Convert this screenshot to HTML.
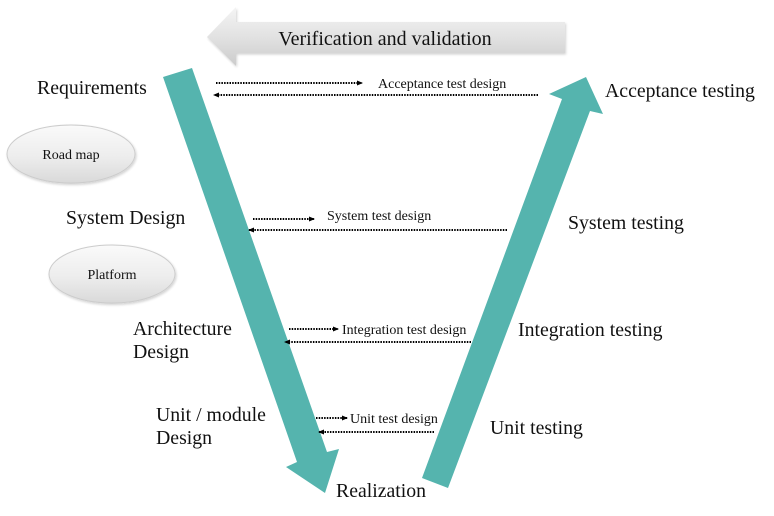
<!DOCTYPE html>
<html>
<head>
<meta charset="utf-8">
<style>
html,body{margin:0;padding:0;background:#fff;}
svg{display:block;}
text{font-family:"Liberation Serif","Times New Roman",serif;fill:#111;}
</style>
</head>
<body>
<svg width="774" height="516" viewBox="0 0 774 516" xmlns="http://www.w3.org/2000/svg">
  <defs>
    <linearGradient id="gArrow" x1="0" y1="0" x2="0" y2="1">
      <stop offset="0" stop-color="#f4f4f4"/>
      <stop offset="0.5" stop-color="#e2e2e2"/>
      <stop offset="1" stop-color="#cbcbcb"/>
    </linearGradient>
    <linearGradient id="gEll" x1="0" y1="0" x2="0" y2="1">
      <stop offset="0" stop-color="#fafafa"/>
      <stop offset="0.55" stop-color="#ededed"/>
      <stop offset="1" stop-color="#d9d9d9"/>
    </linearGradient>
    <filter id="sh" x="-10%" y="-20%" width="130%" height="150%">
      <feGaussianBlur in="SourceAlpha" stdDeviation="1.2"/>
      <feOffset dx="1" dy="1.5" result="b"/>
      <feComponentTransfer><feFuncA type="linear" slope="0.18"/></feComponentTransfer>
      <feMerge><feMergeNode/><feMergeNode in="SourceGraphic"/></feMerge>
    </filter>
    <marker id="ah" markerWidth="6" markerHeight="6" refX="5" refY="3" orient="auto" markerUnits="userSpaceOnUse">
      <path d="M0,0.5 L6,3 L0,5.5 Z" fill="#000"/>
    </marker>
  </defs>

  <!-- Verification and validation arrow -->
  <polygon points="207,37 236,7 236,22 565,22 565,53 236,53 236,66" fill="url(#gArrow)" filter="url(#sh)"/>
  <text x="385" y="45" font-size="20" text-anchor="middle">Verification and validation</text>

  <!-- Left teal arrow -->
  <polygon points="163,77 192,68 327,452 339,449 325,493 286,467 297,462" fill="#55b4ae"/>
  <!-- Right teal arrow -->
  <polygon points="422,478 448,488 590,111 603,114 586,77 549,94 562,99" fill="#55b4ae"/>

  <!-- Ellipses -->
  <ellipse cx="71" cy="154" rx="64" ry="29" fill="url(#gEll)" stroke="#cccccc" stroke-width="1" filter="url(#sh)"/>
  <text x="71" y="159" font-size="14" text-anchor="middle">Road map</text>
  <ellipse cx="112" cy="274" rx="63" ry="29" fill="url(#gEll)" stroke="#cccccc" stroke-width="1" filter="url(#sh)"/>
  <text x="112" y="279" font-size="14" text-anchor="middle">Platform</text>

  <!-- Left labels -->
  <text x="37" y="94" font-size="19.8">Requirements</text>
  <text x="66" y="224" font-size="19.8">System Design</text>
  <text x="133" y="335" font-size="19.8">Architecture</text>
  <text x="133" y="358" font-size="19.8">Design</text>
  <text x="156" y="421" font-size="19.8">Unit / module</text>
  <text x="156" y="444" font-size="19.8">Design</text>
  <text x="336" y="497" font-size="19.8">Realization</text>

  <!-- Right labels -->
  <text x="605" y="97" font-size="19.8">Acceptance testing</text>
  <text x="568" y="229" font-size="19.8">System testing</text>
  <text x="518" y="336" font-size="19.8">Integration testing</text>
  <text x="490" y="434" font-size="19.8">Unit testing</text>

  <!-- Dotted connectors -->
  <g stroke="#000" stroke-width="2" stroke-dasharray="1.5 1.2" fill="none">
    <line x1="216" y1="83" x2="362" y2="83" marker-end="url(#ah)"/>
    <line x1="538" y1="95" x2="214" y2="95" marker-end="url(#ah)"/>
    <line x1="253" y1="219" x2="314" y2="219" marker-end="url(#ah)"/>
    <line x1="507" y1="230" x2="249" y2="230" marker-end="url(#ah)"/>
    <line x1="289" y1="329" x2="338" y2="329" marker-end="url(#ah)"/>
    <line x1="471" y1="342" x2="285" y2="342" marker-end="url(#ah)"/>
    <line x1="316" y1="418" x2="347" y2="418" marker-end="url(#ah)"/>
    <line x1="434" y1="432" x2="319" y2="432" marker-end="url(#ah)"/>
  </g>

  <!-- Connector labels -->
  <text x="378" y="88" font-size="14">Acceptance test design</text>
  <text x="327" y="220" font-size="14">System test design</text>
  <text x="342" y="334" font-size="14">Integration test design</text>
  <text x="350" y="423" font-size="14">Unit test design</text>
</svg>
</body>
</html>
